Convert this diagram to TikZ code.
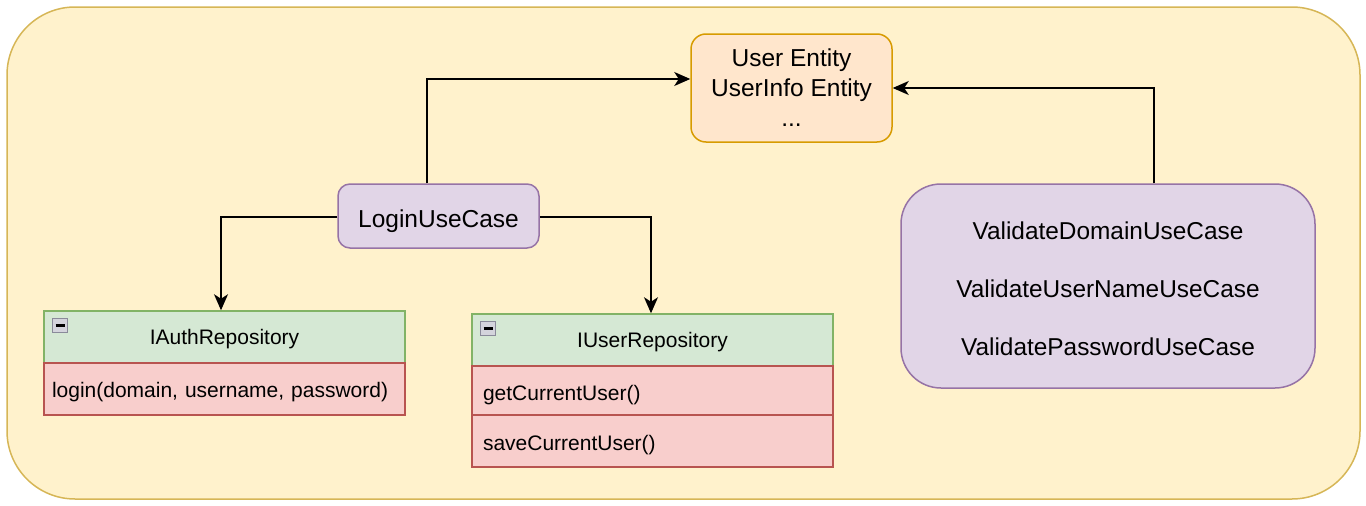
\documentclass[tikz,border=0pt]{standalone}
\usepackage{fontspec}
\setmainfont{Liberation Sans}
\usetikzlibrary{arrows.meta}
\definecolor{bgfill}{HTML}{FFF2CC}
\definecolor{bgdraw}{HTML}{D6B656}
\definecolor{entfill}{HTML}{FFE6CC}
\definecolor{entdraw}{HTML}{D79B00}
\definecolor{ucfill}{HTML}{E1D5E7}
\definecolor{ucdraw}{HTML}{9673A6}
\definecolor{hdfill}{HTML}{D5E8D4}
\definecolor{hddraw}{HTML}{82B366}
\definecolor{rowfill}{HTML}{F8CECC}
\definecolor{rowdraw}{HTML}{B85450}
\definecolor{iconfill}{HTML}{D4D4DC}
\definecolor{icondraw}{HTML}{8A8A9A}
\begin{document}
\begin{tikzpicture}[x=1pt,y=-1pt,
  bigfont/.style={font=\fontsize{24.5pt}{30pt}\selectfont},
  smallfont/.style={font=\fontsize{21pt}{25pt}\selectfont},
  bgbox/.style={draw=bgdraw, fill=bgfill, line width=1.5pt, rounded corners=68pt, inner sep=0pt},
  entbox/.style={draw=entdraw, fill=entfill, line width=1.5pt, rounded corners=15pt, inner sep=0pt, align=center, bigfont},
  ucbox/.style={draw=ucdraw, fill=ucfill, line width=1.5pt, rounded corners=12pt, inner sep=0pt, align=center, bigfont},
  hdbox/.style={draw=hddraw, fill=hdfill, line width=1.5pt, inner sep=0pt, minimum width=361pt, minimum height=52pt, smallfont, text height=15pt, text depth=0pt},
  rowbox/.style={draw=rowdraw, fill=rowfill, line width=1.5pt, inner ysep=0pt, minimum width=361pt, align=left, smallfont, text depth=0pt},
  icon/.style={draw=icondraw, fill=iconfill, line width=1pt},
  iconbar/.style={line width=2.6pt},
  conn/.style={draw=black, line width=1.5pt, -{Stealth[length=16pt,width=14pt,inset=4.5pt]}}
]
\useasboundingbox (0,0) rectangle (1366,506);
\node[bgbox, minimum width=1353pt, minimum height=492pt] (bg) at (683.5,253) {};

% entity
\node[entbox, minimum width=201pt, minimum height=108pt] (entity) at (791.5,88) {User Entity\\UserInfo Entity\\...};
% login use case
\node[ucbox, minimum width=201pt, minimum height=64pt, text height=22pt, text depth=0pt] (login) at (438.5,216) {LoginUseCase};
% validate use cases
\node[ucbox, rounded corners=40pt, minimum width=414pt, minimum height=204pt] (validate) at (1108,286) {};
\node[align=center, inner sep=0pt, font=\fontsize{24.4pt}{58pt}\selectfont] (validatetext) at (1108,289) {ValidateDomainUseCase\\ValidateUserNameUseCase\\ValidatePasswordUseCase};

% IAuthRepository
\node[hdbox] (iauthhead) at (224.5,337) {IAuthRepository};
\node[rowbox, minimum height=52pt, text width=345pt, inner xsep=8pt, text height=16pt] (iauthrow) at (224.5,389) {login(domain, username, password)};
\draw[icon] (52.5,318.5) rectangle (67.5,332.5);
\draw[iconbar] (55.5,325.5) -- (64.5,325.5);

% IUserRepository
\node[hdbox] (iuserhead) at (652.5,340) {IUserRepository};
\node[rowbox, minimum height=49pt, text width=339pt, inner xsep=11pt, text height=20pt] (iuserrow1) at (652.5,390.5) {getCurrentUser()};
\node[rowbox, minimum height=52pt, text width=339pt, inner xsep=11pt, text height=18pt] (iuserrow2) at (652.5,441) {saveCurrentUser()};
\draw[icon] (480.5,321.5) rectangle (495.5,335.5);
\draw[iconbar] (483.5,328.5) -- (492.5,328.5);

% connectors
\draw[conn] ([xshift=-11.5pt]login.north) |- ([yshift=9pt]entity.west);
\draw[conn] ([xshift=46pt]validate.north) |- (entity.east);
\draw[conn] ([yshift=-1pt]login.west) -| ([xshift=-3.5pt]iauthhead.north);
\draw[conn] ([yshift=-1pt]login.east) -| ([xshift=-1.5pt]iuserhead.north);
\end{tikzpicture}
\end{document}
